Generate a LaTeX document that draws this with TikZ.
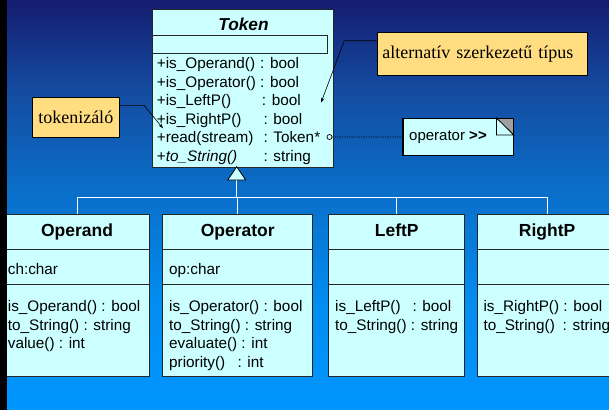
\documentclass[tikz,border=0pt]{standalone}
\usepackage{fontspec}
\setmainfont{Liberation Serif}
\newfontfamily\umlfont{Liberation Sans}
\usetikzlibrary{arrows.meta,calc}
\definecolor{umlfill}{RGB}{204,255,255}
\definecolor{notefill}{RGB}{255,221,128}
\definecolor{bgA}{RGB}{20,28,112}
\definecolor{bgB}{RGB}{20,75,160}
\definecolor{bgC}{RGB}{10,110,200}
\definecolor{bgD}{RGB}{2,140,240}
\definecolor{bgE}{RGB}{0,150,255}
\definecolor{corner}{RGB}{160,160,160}
\begin{document}
\begin{tikzpicture}[x=1pt,y=-1pt,
  umlbox/.style={draw=black!85, line width=0.8pt, fill=umlfill, inner sep=0pt, anchor=north west},
  mtext/.style={font=\umlfont\fontsize{15.3}{18}\selectfont, inner sep=0pt, anchor=base west, text=black},
  ctitle/.style={font=\umlfont\bfseries\fontsize{17.5}{20}\selectfont, inner sep=0pt, anchor=base, text=black},
  notebox/.style={draw=black, line width=0.8pt, fill=notefill, font=\rmfamily\fontsize{18}{21}\selectfont, inner sep=0pt},
  compline/.style={draw=black!85, line width=0.8pt},
  callout/.style={draw=black, line width=0.6pt, -{Stealth[length=5pt,width=3.5pt]}},
  inh/.style={draw=white, line width=1pt},
  dotline/.style={draw=black, line width=0.8pt, dash pattern=on 1.2pt off 1.2pt}]
\useasboundingbox (0,0) rectangle (609,410);
% background gradient as thin bands
\foreach \ya/\yb/\ca/\cb in {0/90/bgA/bgB, 90/190/bgB/bgC, 190/300/bgC/bgD, 300/410/bgD/bgE}{
  \pgfmathtruncatemacro\nb{(\yb-\ya)/2-1}
  \foreach \k in {0,...,\nb}{
    \pgfmathsetmacro\yy{\ya+2*\k}
    \pgfmathtruncatemacro\pp{100*(2*\k+1)/(\yb-\ya)}
    \fill[\cb!\pp!\ca] (0,\yy) rectangle (609,{\yy+2.3});
  }
}

% ---------- Token class ----------
\node[umlbox, minimum width=181pt, minimum height=157.7pt] (token) at (151.7,9) {};
\node[font=\umlfont\bfseries\itshape\fontsize{17.3}{20}\selectfont, inner sep=0pt, anchor=base] (tokname) at (243.5,30.2) {Token};
\node[umlbox, minimum width=175.3pt, minimum height=18pt] (tokattr) at (151.7,35) {};
\node[mtext] (tm1) at (156.7,68.5) {+is\_Operand()};
\node[mtext] (tt1) at (260,68.5) {: bool};
\node[mtext] (tm2) at (156.7,87) {+is\_Operator()};
\node[mtext] (tt2) at (260,87) {: bool};
\node[mtext] (tm3) at (156.7,105.5) {+is\_LeftP()};
\node[mtext] (tt3) at (261.7,105.5) {: bool};
\node[mtext] (tm4) at (156.7,124) {+is\_RightP()};
\node[mtext] (tt4) at (263.3,124) {: bool};
\node[mtext] (tm5) at (156.7,142.5) {+read(stream)};
\node[mtext] (tt5) at (263.3,142.5) {: Token*};
\node[mtext] (tm6) at (156.7,161) {+\textit{to\_String()}};
\node[mtext] (tt6) at (263.3,161) {: string};
\node[circle, draw=black, line width=0.7pt, fill=umlfill, minimum size=5pt, inner sep=0pt] (port) at (329.5,137) {};

% ---------- notes ----------
\node[notebox, anchor=north west, minimum height=43.3pt, text width=199.4pt, inner xsep=5.3pt, align=left] (altnote) at (376.7,31.7) {alternatív szerkezetű típus};
\node[notebox, anchor=north west, minimum width=87.3pt, minimum height=40pt] (toknote) at (31.7,96.7) {tokenizáló};

\coordinate (altbend) at (344.3,40.7);
\coordinate (altend) at (321,102.7);
\draw[callout] ($(altnote.north west)+(0,9)$) -- (altbend) -- (altend);
\coordinate (tokbend) at (144,105.3);
\coordinate (tokend) at (163,128.3);
\draw[callout] ($(toknote.north east)+(0,8.6)$) -- (tokbend) -- (tokend);

% operator note
\node[draw=black, line width=0.8pt, fill=umlfill, anchor=north west, minimum width=110.3pt, minimum height=37pt, inner sep=0pt] (opnote) at (402.7,118) {};
\fill[corner] ($(opnote.north east)+(-17.3,0)$) -- (opnote.north east) -- ($(opnote.north east)+(0,17)$) -- cycle;
\draw[black, line width=0.8pt] ($(opnote.north east)+(-17.3,0)$) -- ($(opnote.north east)+(-17.3,17)$) -- ($(opnote.north east)+(0,17)$) -- cycle;
\draw[black, line width=0.8pt] (opnote.north west) rectangle (opnote.south east);
\node[mtext, anchor=west, font=\umlfont\fontsize{15}{18}\selectfont] (optext) at (409,137) {operator \textbf{>>}};
\draw[dotline] (port.east) -- (opnote.west);

% ---------- subclasses ----------
\node[umlbox, minimum width=145.3pt, minimum height=161.7pt] (operand) at (4,214.3) {};
\node[umlbox, minimum width=150pt, minimum height=161.7pt] (operator) at (162.3,214.3) {};
\node[umlbox, minimum width=136pt, minimum height=161.7pt] (leftp) at (328.3,214.3) {};
\node[umlbox, minimum width=140pt, minimum height=161.7pt] (rightp) at (476.7,214.3) {};
\foreach \b in {operand,operator,leftp,rightp}{
  \draw[compline] ($(\b.north west)+(0,35)$) -- ($(\b.north east)+(0,35)$);
  \draw[compline] ($(\b.north west)+(0,70)$) -- ($(\b.north east)+(0,70)$);
}
\node[ctitle] (operandname) at ($(operand.north)+(0,22)$) {Operand};
\node[ctitle] (operatorname) at ($(operator.north)+(0,22)$) {Operator};
\node[ctitle] (leftpname) at ($(leftp.north)+(0,22)$) {LeftP};
\node[ctitle] (rightpname) at ($(rightp.north)+(0,22)$) {RightP};

\node[mtext] (oa1) at (7.7,274.8) {ch:char};
\node[mtext] (om1) at (7.7,311.5) {is\_Operand() : bool};
\node[mtext] (om2) at (7.7,330.2) {to\_String() : string};
\node[mtext] (om3) at (7.7,348.8) {value() : int};

\node[mtext] (pa1) at (169,274.8) {op:char};
\node[mtext] (pm1) at (169,311.5) {is\_Operator() : bool};
\node[mtext] (pm2) at (169,330.2) {to\_String() : string};
\node[mtext] (pm3) at (169,348.8) {evaluate() : int};
\node[mtext] (pm4) at (169,367.5) {priority()};
\node[mtext] (pt4) at (237.3,367.5) {: int};

\node[mtext] (lm1) at (335,311.5) {is\_LeftP()};
\node[mtext] (lt1) at (412.3,311.5) {: bool};
\node[mtext] (lm2) at (335,330.2) {to\_String() : string};

\node[mtext] (rm1) at (483.3,311.5) {is\_RightP() : bool};
\node[mtext] (rm2) at (483.3,330.2) {to\_String()};
\node[mtext] (rt2) at (562.5,330.2) {: string};

% ---------- generalization ----------
\coordinate (genapex) at (236.7,166.7);
\coordinate (genbase) at (236.7,180);
\coordinate (genjoin) at (236.7,197.3);
\draw[inh] (genbase) -- (genjoin);
\draw[inh] (genjoin) -| (operand.north);
\draw[inh] (genjoin) -| (operator.north);
\draw[inh] (genjoin) -| (leftp.north);
\draw[inh] (genjoin) -| (rightp.north);
\draw[fill=umlfill, draw=black, line width=0.8pt] (genapex) -- ($(genbase)+(9,0)$) -- ($(genbase)+(-9,0)$) -- cycle;

% left black bar
\fill[black] (0,0) rectangle (6.5,410);
\end{tikzpicture}
\end{document}
